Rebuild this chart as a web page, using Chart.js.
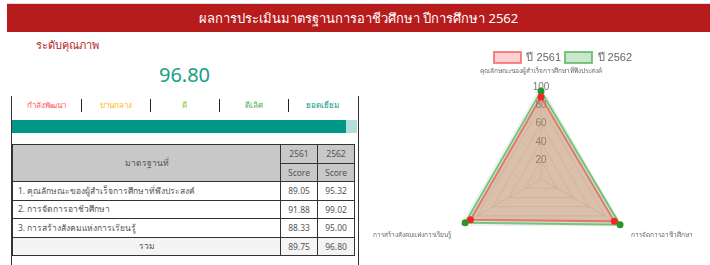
<!DOCTYPE html>
<html>
<head>
<meta charset="utf-8">
<script src="https://cdn.jsdelivr.net/npm/chart.js@4"></script>
<style>
  body { margin: 0; width: 710px; height: 265px; overflow: hidden; background: #fff;
         font-family: "Noto Sans", "DejaVu Sans", sans-serif; position: relative; }
  .title { position: absolute; left: 7px; top: 3px; width: 703px; height: 29px;
           background: #b71c1c; border-top: 1px solid #ddd; color: #fff; font-size: 13px;
           line-height: 28px; text-align: center; box-sizing: border-box; }
  .level-title { position: absolute; left: 36px; top: 36px; font-size: 11px; color: #b22222; }
  .total { position: absolute; left: 12px; width: 345px; top: 61px; text-align: center;
           font-size: 20px; color: #16a085; }
  .panel { position: absolute; left: 11px; top: 96px; width: 346px; height: 170px;
           border-left: 1.5px solid #333; border-right: 1.5px solid #333; }
  .levels { position: absolute; left: 12px; top: 97px; width: 345px; height: 16px; display: flex; }
  .levels div { flex: 1; text-align: center; font-size: 8px; line-height: 16px; position: relative; }
  .levels div + div:before { content: ""; position: absolute; left: 0; top: 2px; height: 13px;
                             border-left: 1.5px solid #222; }
  .bar { position: absolute; left: 12px; top: 120px; width: 345px; height: 13px; background: #b2dfdb; }
  .bar div { height: 100%; background: #009688; }
  table { position: absolute; left: 12px; top: 144px; width: 343px; border-collapse: collapse;
          font-size: 8.5px; color: #555; }
  td, th { border: 1.5px solid #333; height: 17.5px; padding: 0 5px; font-weight: normal; }
  th { background: #c8c8c8; }
  td.num, th.num { text-align: center; width: 26px; }
  tr.sum td { background: #f4f4f4; }
  #wrap { position: absolute; left: 350px; top: 36px; width: 382px; height: 249px; }
</style>
</head>
<body>
<div class="title">ผลการประเมินมาตรฐานการอาชีวศึกษา ปีการศึกษา 2562</div>
<div class="level-title">ระดับคุณภาพ</div>
<div class="total" id="total"></div>
<div class="panel"></div>
<div class="levels" id="levels"></div>
<div class="bar"><div id="barFill"></div></div>
<table id="tbl"></table>
<div id="wrap"><canvas id="radar"></canvas></div>
<script>
var standards = ["คุณลักษณะของผู้สำเร็จการศึกษาที่พึงประสงค์", "การจัดการอาชีวศึกษา", "การสร้างสังคมแห่งการเรียนรู้"];
var years = ["2561", "2562"];
var score_2561 = [89.05, 91.88, 88.33];
var score_2562 = [95.32, 99.02, 95.00];
var total_2561 = 89.75;
var total_2562 = 96.80;
var level_names = ["กำลังพัฒนา", "ปานกลาง", "ดี", "ดีเลิศ", "ยอดเยี่ยม"];
var level_colors = ["#ff5252", "#ffb300", "#8bc34a", "#4caf50", "#009688"];

document.getElementById("total").textContent = total_2562.toFixed(2);
document.getElementById("barFill").style.width = total_2562 + "%";

var levels = document.getElementById("levels");
for (var i = 0; i < level_names.length; i++) {
  var d = document.createElement("div");
  d.textContent = level_names[i];
  d.style.color = level_colors[i];
  levels.appendChild(d);
}

// table
var html = '<tr><th rowspan="2">มาตรฐานที่</th><th class="num">' + years[0] + '</th><th class="num">' + years[1] + '</th></tr>';
html += '<tr><th class="num">Score</th><th class="num">Score</th></tr>';
for (var r = 0; r < standards.length; r++) {
  html += '<tr><td>' + (r + 1) + '. ' + standards[r] + '</td><td class="num">' + score_2561[r].toFixed(2) +
          '</td><td class="num">' + score_2562[r].toFixed(2) + '</td></tr>';
}
html += '<tr class="sum"><td style="text-align:center">รวม</td><td class="num">' + total_2561.toFixed(2) +
        '</td><td class="num">' + total_2562.toFixed(2) + '</td></tr>';
document.getElementById("tbl").innerHTML = html;

// legend sits right of and lower than the radar centre in the original
var legendShift = {
  id: 'legendShift',
  afterLayout: function(chart) {
    chart.legend.left += 22;
    chart.legend.right += 22;
    chart.legend.top += 12;
    chart.legend.bottom += 12;
  }
};

var ctx = document.getElementById("radar");
var radar = new Chart(ctx, {
  type: 'radar',
  data: {
    labels: standards,
    datasets: [{
      label: "ปี " + years[0],
      data: score_2561,
      backgroundColor: "rgba(255, 99, 99, 0.3)",
      borderColor: "rgba(240, 60, 60, 0.6)",
      pointBackgroundColor: "rgb(240, 40, 40)",
      pointBorderColor: "rgb(240, 40, 40)",
      pointRadius: 2.5,
      borderWidth: 2
    }, {
      label: "ปี " + years[1],
      data: score_2562,
      backgroundColor: "rgba(76, 175, 80, 0.3)",
      borderColor: "rgba(76, 175, 80, 0.7)",
      pointBackgroundColor: "rgb(40, 150, 40)",
      pointBorderColor: "rgb(40, 150, 40)",
      pointRadius: 2.5,
      borderWidth: 2
    }]
  },
  plugins: [legendShift],
  options: {
    responsive: true,
    maintainAspectRatio: false,
    animation: false,
    plugins: {
      legend: {
        labels: { boxWidth: 27, boxHeight: 11, padding: 4, font: { size: 11 }, color: '#666' }
      },
      tooltip: { enabled: false }
    },
    scales: {
      r: {
        min: 0,
        max: 100,
        ticks: { stepSize: 20, showLabelBackdrop: false, color: '#777', font: { size: 10 } },
        pointLabels: { font: { size: 6.5 }, color: '#666' },
        grid: { color: 'rgba(0,0,0,0.1)' },
        angleLines: { color: 'rgba(0,0,0,0.1)' }
      }
    }
  }
});
</script>
</body>
</html>
